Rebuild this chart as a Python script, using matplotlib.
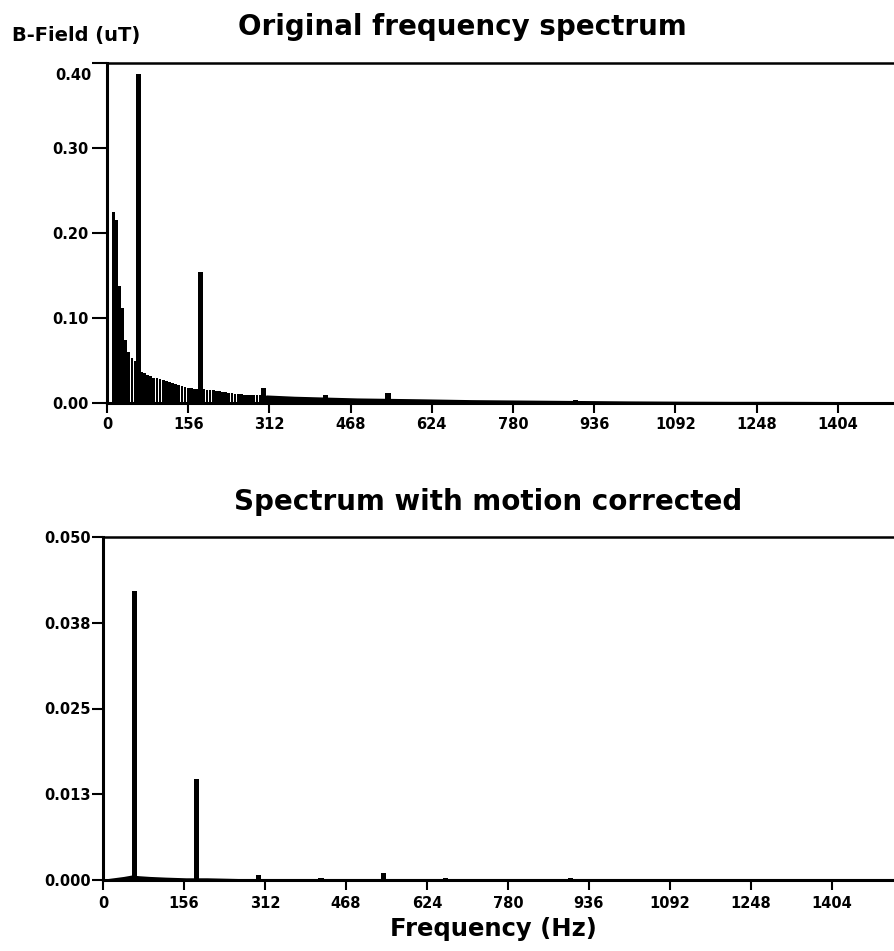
import matplotlib
matplotlib.use("Agg")
import matplotlib.pyplot as plt

plt.rcParams['font.family'] = ['DejaVu Sans']
plt.rcParams['font.weight'] = 'bold'

# ---- original spectrum: low-frequency bins (Hz, uT) ----
bin_freqs = [12, 18, 24, 30, 36, 42, 48, 54, 60, 66, 72, 78, 84, 90, 96, 102,
             108, 114, 120, 126, 132, 138, 144, 150, 156, 162, 168, 174, 180,
             186, 192, 198, 204, 210, 216, 222, 228, 234, 240, 246, 252, 258,
             264, 270, 276, 282, 288, 294, 300, 306]
bin_vals = [0.225, 0.215, 0.138, 0.112, 0.074, 0.060, 0.053, 0.050, 0.040,
            0.036, 0.035, 0.033, 0.032, 0.030, 0.029, 0.028, 0.027, 0.026,
            0.025, 0.024, 0.022, 0.021, 0.020, 0.019, 0.018, 0.018, 0.017,
            0.017, 0.016, 0.016, 0.0155, 0.015, 0.015, 0.014, 0.014, 0.013,
            0.013, 0.012, 0.012, 0.011, 0.011, 0.011, 0.010, 0.010, 0.0095,
            0.009, 0.009, 0.009, 0.009, 0.0085]

# harmonic peaks in the original spectrum
peak_freqs = [60, 180, 300, 420, 540, 900]
peak_vals = [0.387, 0.154, 0.018, 0.0095, 0.012, 0.004]

# high-frequency tail (thick baseline)
tail_freqs = [306, 360, 420, 480, 540, 600, 700, 800, 900, 1000, 1100, 1200,
              1300, 1400, 1514]
tail_vals = [0.0085, 0.007, 0.006, 0.005, 0.0045, 0.004, 0.003, 0.0025, 0.002,
             0.0015, 0.0012, 0.001, 0.001, 0.0008, 0.0008]

# ---- motion corrected spectrum ----
corr_base_freqs = [0, 20, 40, 55, 70, 90, 120, 160, 200, 260, 360, 500, 700,
                   1000, 1300, 1526]
corr_base_vals = [0.0, 0.0002, 0.0004, 0.0006, 0.0005, 0.0004, 0.0003, 0.0002,
                  0.0002, 0.0001, 0.0001, 0.0001, 0.0001, 0.0001, 0.0001, 0.0001]
corr_peak_freqs = [60, 180, 300, 420, 540, 660, 780, 900]
corr_peak_vals = [0.0422, 0.0147, 0.0008, 0.0003, 0.001, 0.0003, 0.0002, 0.0003]

xticks = [0, 156, 312, 468, 624, 780, 936, 1092, 1248, 1404]
top_yticks = [0.0, 0.1, 0.2, 0.3, 0.4]
top_ylabels = ['0.00', '0.10', '0.20', '0.30', '']
bot_yticks = [0.0, 0.0125, 0.025, 0.0375, 0.05]
bot_ylabels = ['0.000', '0.013', '0.025', '0.038', '0.050']

W, H = 895, 951
fig = plt.figure(figsize=(W / 100, H / 100), dpi=100)

def style_axes(ax):
    ax.spines['right'].set_visible(False)
    for s in ['left', 'bottom']:
        ax.spines[s].set_linewidth(2.2)
    ax.spines['top'].set_linewidth(1.8)
    ax.set_xticks(xticks)
    ax.set_xticklabels([str(t) for t in xticks])
    for lab in ax.get_xticklabels() + ax.get_yticklabels():
        lab.set_fontweight('bold')
        lab.set_fontsize(10.5)

# top panel
ax1 = fig.add_axes([107 / W, 1 - 403 / H, (W - 107) / W, (403 - 63) / H])
ax1.bar(bin_freqs, bin_vals, width=5.3, color='black', linewidth=0)
ax1.bar(peak_freqs, peak_vals, width=10, color='black', linewidth=0)
ax1.fill_between(tail_freqs, 0, tail_vals, color='black', linewidth=1.2)
ax1.set_xlim(0, 1514)
ax1.set_ylim(0, 0.4)
ax1.set_yticks(top_yticks)
ax1.set_yticklabels(top_ylabels)
ax1.tick_params(axis='x', direction='out', length=7, width=1.5, pad=3)
ax1.tick_params(axis='y', direction='out', length=11, width=1.5, pad=2)
style_axes(ax1)
# the top label sits a little below its tick in the original
ax1.annotate('0.40', xy=(0, 0.385), xycoords=('axes fraction', 'data'),
             xytext=(-15, 0), textcoords='offset pixels',
             ha='right', va='center', fontsize=10.5, fontweight='bold')

# bottom panel
ax2 = fig.add_axes([103 / W, 1 - 880 / H, (W - 103) / W, (880 - 537) / H])
ax2.fill_between(corr_base_freqs, 0, corr_base_vals, color='black', linewidth=1.2)
ax2.bar(corr_peak_freqs, corr_peak_vals, width=10, color='black', linewidth=0)
ax2.set_xlim(0, 1526)
ax2.set_ylim(0, 0.05)
ax2.set_yticks(bot_yticks)
ax2.set_yticklabels(bot_ylabels)
ax2.tick_params(axis='x', direction='out', length=7, width=1.5, pad=4.5)
ax2.tick_params(axis='y', direction='out', length=8, width=1.5, pad=0.5)
style_axes(ax2)

fig.text(12 / W, 1 - 41 / H, 'B-Field (uT)', fontsize=14, fontweight='bold',
         ha='left', va='baseline')
fig.text(462 / W, 1 - 35 / H, 'Original frequency spectrum', fontsize=20,
         fontweight='bold', ha='center', va='baseline')
fig.text(488 / W, 1 - 510 / H, 'Spectrum with motion corrected', fontsize=20,
         fontweight='bold', ha='center', va='baseline')
fig.text(493 / W, 1 - 936 / H, 'Frequency (Hz)', fontsize=17.5,
         fontweight='bold', ha='center', va='baseline')

fig.savefig('out.png', dpi=100)
